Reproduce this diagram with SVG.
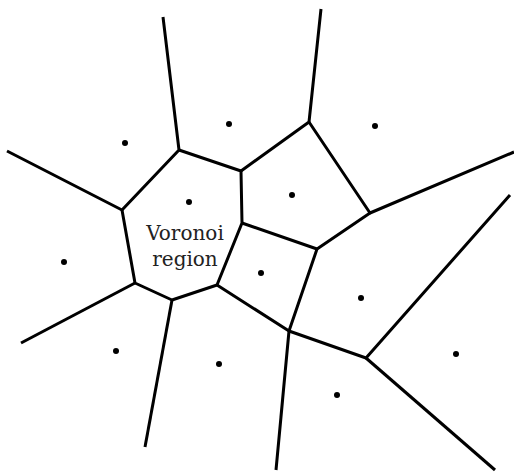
<svg xmlns="http://www.w3.org/2000/svg" width="514" height="472" viewBox="0 0 514 472">
<style>
.e{stroke:#000;stroke-width:3;fill:none;stroke-linecap:butt;stroke-linejoin:round}
.s{fill:#000}
</style>
<rect width="514" height="472" fill="#fff"/>
<g id="edges">
<path class="e" d="M163,17 L179,150 L122,210 L7,151"/>
<path class="e" d="M179,150 L241,171 L242,223 L217,285 L172,300 L135,283 L122,210"/>
<path class="e" d="M135,283 L21,343"/>
<path class="e" d="M172,300 L145,447"/>
<path class="e" d="M241,171 L309,122 L321,9"/>
<path class="e" d="M309,122 L370,213 L514,152"/>
<path class="e" d="M370,213 L317,249 L242,223"/>
<path class="e" d="M317,249 L289,331 L217,285"/>
<path class="e" d="M289,331 L276,470"/>
<path class="e" d="M289,331 L366,358 L510,195"/>
<path class="e" d="M366,358 L495,470"/>
</g>
<g id="sites">
<circle class="s" cx="125" cy="143" r="3"/>
<circle class="s" cx="229" cy="124" r="3"/>
<circle class="s" cx="189" cy="202" r="3"/>
<circle class="s" cx="375" cy="126" r="3"/>
<circle class="s" cx="292" cy="195" r="3"/>
<circle class="s" cx="64" cy="262" r="3"/>
<circle class="s" cx="261" cy="273" r="3"/>
<circle class="s" cx="361" cy="298" r="3"/>
<circle class="s" cx="116" cy="351" r="3"/>
<circle class="s" cx="219" cy="364" r="3"/>
<circle class="s" cx="456" cy="354" r="3"/>
<circle class="s" cx="337" cy="395" r="3"/>
</g>
<g id="label" font-family="'DejaVu Serif', serif" font-size="20" fill="#222" text-anchor="middle">
<text x="185" y="240">Voronoi</text>
<text x="185" y="266">region</text>
</g>
</svg>
